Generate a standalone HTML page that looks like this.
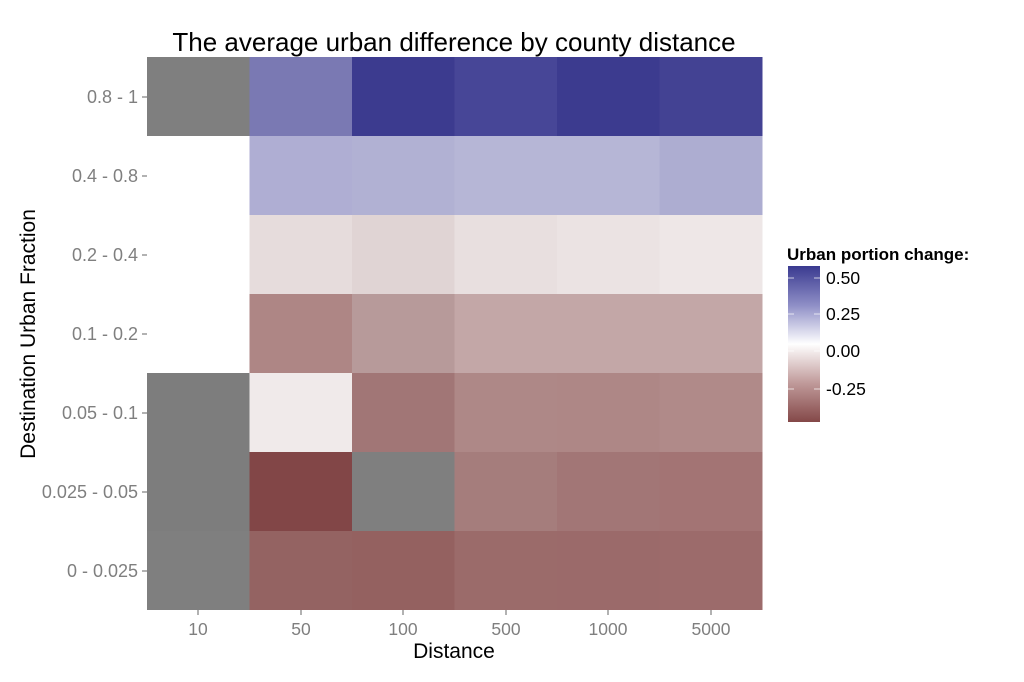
<!DOCTYPE html>
<html><head><meta charset="utf-8"><style>
body{margin:0;background:#fff;width:1024px;height:677px;overflow:hidden;font-family:"Liberation Sans",sans-serif;}
</style></head><body>
<svg width="1024" height="677" xmlns="http://www.w3.org/2000/svg" font-family="Liberation Sans, sans-serif">
<defs><linearGradient id="g" x1="0" y1="0" x2="0" y2="1">
<stop offset="0" stop-color="#3a3a90"/><stop offset="0.25" stop-color="#8e8ec6"/><stop offset="0.5" stop-color="#ffffff"/><stop offset="0.75" stop-color="#c09a9a"/><stop offset="1" stop-color="#844848"/></linearGradient></defs>
<text x="454" y="51" font-size="26" text-anchor="middle" fill="#000">The average urban difference by county distance</text>
<g>
<rect x="147" y="57" width="103" height="79" fill="#7f7f7f"/>
<rect x="249.5" y="57" width="103" height="79" fill="#7a79b3"/>
<rect x="352" y="57" width="103" height="79" fill="#3c3b8f"/>
<rect x="454.5" y="57" width="103" height="79" fill="#474697"/>
<rect x="557" y="57" width="103" height="79" fill="#3c3b8f"/>
<rect x="659.5" y="57" width="103" height="79" fill="#434293"/>
<rect x="249.5" y="136" width="103" height="79" fill="#afaed3"/>
<rect x="352" y="136" width="103" height="79" fill="#b1b1d3"/>
<rect x="454.5" y="136" width="103" height="79" fill="#b6b6d6"/>
<rect x="557" y="136" width="103" height="79" fill="#b6b6d6"/>
<rect x="659.5" y="136" width="103" height="79" fill="#adadd1"/>
<rect x="249.5" y="215" width="103" height="79" fill="#e6dcdc"/>
<rect x="352" y="215" width="103" height="79" fill="#e0d4d4"/>
<rect x="454.5" y="215" width="103" height="79" fill="#e8dfdf"/>
<rect x="557" y="215" width="103" height="79" fill="#ebe3e3"/>
<rect x="659.5" y="215" width="103" height="79" fill="#eee7e7"/>
<rect x="249.5" y="294" width="103" height="79" fill="#ae8685"/>
<rect x="352" y="294" width="103" height="79" fill="#b79a9a"/>
<rect x="454.5" y="294" width="103" height="79" fill="#c3a7a7"/>
<rect x="557" y="294" width="103" height="79" fill="#c3a7a7"/>
<rect x="659.5" y="294" width="103" height="79" fill="#c3a7a7"/>
<rect x="147" y="373" width="103" height="79" fill="#7d7d7d"/>
<rect x="249.5" y="373" width="103" height="79" fill="#f0eaea"/>
<rect x="352" y="373" width="103" height="79" fill="#a17676"/>
<rect x="454.5" y="373" width="103" height="79" fill="#ae8887"/>
<rect x="557" y="373" width="103" height="79" fill="#ae8786"/>
<rect x="659.5" y="373" width="103" height="79" fill="#b08a89"/>
<rect x="147" y="452" width="103" height="79" fill="#7d7d7d"/>
<rect x="249.5" y="452" width="103" height="79" fill="#824647"/>
<rect x="352" y="452" width="103" height="79" fill="#7f7f7f"/>
<rect x="454.5" y="452" width="103" height="79" fill="#a57d7c"/>
<rect x="557" y="452" width="103" height="79" fill="#a27676"/>
<rect x="659.5" y="452" width="103" height="79" fill="#a37474"/>
<rect x="147" y="531" width="103" height="79" fill="#7f7f7f"/>
<rect x="249.5" y="531" width="103" height="79" fill="#946362"/>
<rect x="352" y="531" width="103" height="79" fill="#946160"/>
<rect x="454.5" y="531" width="103" height="79" fill="#9b6b6a"/>
<rect x="557" y="531" width="103" height="79" fill="#9b6a6a"/>
<rect x="659.5" y="531" width="103" height="79" fill="#9c6b6b"/>
</g>
<g stroke="#7f7f7f" stroke-width="1.2">
<line x1="142" y1="97" x2="147" y2="97"/><line x1="142" y1="176" x2="147" y2="176"/><line x1="142" y1="255" x2="147" y2="255"/><line x1="142" y1="334" x2="147" y2="334"/><line x1="142" y1="413" x2="147" y2="413"/><line x1="142" y1="492" x2="147" y2="492"/><line x1="142" y1="571" x2="147" y2="571"/>
<line x1="198" y1="610" x2="198" y2="615"/><line x1="301" y1="610" x2="301" y2="615"/><line x1="403" y1="610" x2="403" y2="615"/><line x1="506" y1="610" x2="506" y2="615"/><line x1="608" y1="610" x2="608" y2="615"/><line x1="711" y1="610" x2="711" y2="615"/>
</g>
<g font-size="18" fill="#7f7f7f" text-anchor="end">
<text x="138" y="103">0.8 - 1</text><text x="138" y="182">0.4 - 0.8</text><text x="138" y="261">0.2 - 0.4</text><text x="138" y="340">0.1 - 0.2</text><text x="138" y="419">0.05 - 0.1</text><text x="138" y="498">0.025 - 0.05</text><text x="138" y="577">0 - 0.025</text>
</g>
<g font-size="17.5" fill="#7f7f7f" text-anchor="middle">
<text x="198" y="635">10</text><text x="301" y="635">50</text><text x="403" y="635">100</text><text x="506" y="635">500</text><text x="608" y="635">1000</text><text x="711" y="635">5000</text>
</g>
<text x="454" y="658" font-size="21" text-anchor="middle">Distance</text>
<text transform="translate(35,334) rotate(-90)" font-size="21" text-anchor="middle">Destination Urban Fraction</text>
<text x="787" y="260" font-size="17" font-weight="bold">Urban portion change:</text>
<rect x="788" y="266" width="32" height="156" fill="url(#g)"/>
<g stroke="#fff" stroke-width="1" opacity="0.7">
<line x1="788" y1="278" x2="794" y2="278"/><line x1="814" y1="278" x2="820" y2="278"/>
<line x1="788" y1="314" x2="794" y2="314"/><line x1="814" y1="314" x2="820" y2="314"/>
<line x1="788" y1="351" x2="794" y2="351"/><line x1="814" y1="351" x2="820" y2="351"/>
<line x1="788" y1="389" x2="794" y2="389"/><line x1="814" y1="389" x2="820" y2="389"/>
</g>
<g font-size="17.5" fill="#000">
<text x="826" y="284">0.50</text><text x="826" y="320">0.25</text><text x="826" y="357">0.00</text><text x="826" y="395">-0.25</text>
</g>
</svg>
</body></html>
